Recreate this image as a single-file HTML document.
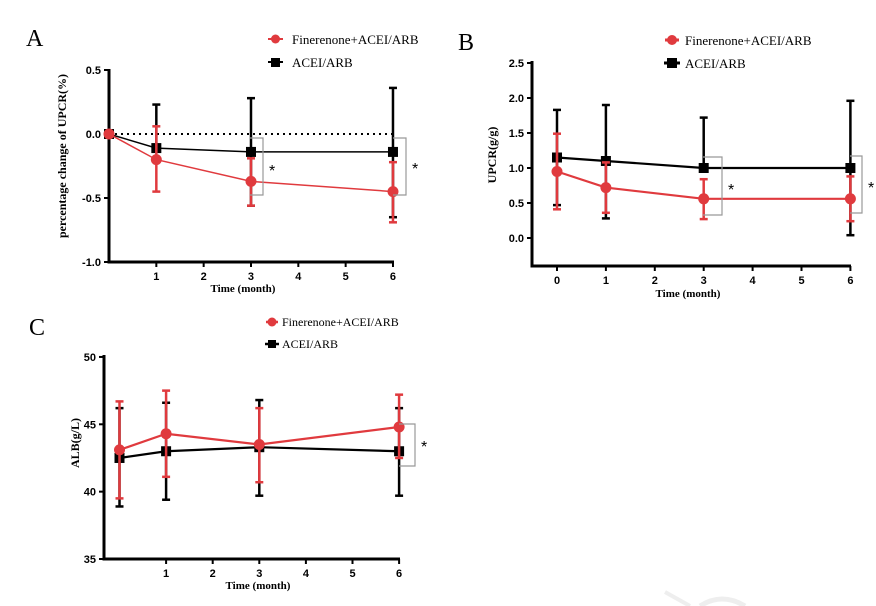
<!DOCTYPE html>
<html><head><meta charset="utf-8"><style>
body{margin:0;background:#fff;width:876px;height:606px;overflow:hidden}
svg{display:block}
.tk{font:bold 11px "Liberation Sans",Arial,sans-serif}
.lg{font:13px "Liberation Serif",serif}
.st{font:16px "Liberation Sans",Arial,sans-serif}
.ax{font:bold 11px "Liberation Serif",serif}
.let{font:24px "Liberation Serif",serif}
</style></head><body>
<svg id="s" width="876" height="606" xmlns="http://www.w3.org/2000/svg"></svg>
<script>
const s=document.getElementById('s');let h='';
const R='#e03a3e',K='#000';
function txt(x,y,t,c,a,ex){h+=`<text x="${x}" y="${y}" class="${c}" text-anchor="${a||'start'}" ${ex||''}>${t}</text>`;}
function ln(x1,y1,x2,y2,c,w,ex){h+=`<line x1="${x1}" y1="${y1}" x2="${x2}" y2="${y2}" stroke="${c}" stroke-width="${w}" ${ex||''}/>`;}
function panel(o){
 const X=v=>o.x0+v*o.xs, Y=v=>o.y0+(v-o.v0)*o.ys;
 ln(o.ax,o.yTop-1,o.ax,o.yBot+1.5,K,3);ln(o.ax-1.5,o.yBot,o.xEnd,o.yBot,K,3);
 o.yt.forEach(v=>{ln(o.ax-5,Y(v),o.ax,Y(v),K,2);txt(o.ax-8,Y(v)+4,v.toFixed(o.dec),'tk','end');});
 o.xt.forEach(v=>{ln(X(v),o.yBot,X(v),o.yBot+5,K,2);txt(X(v),o.yBot+18,v,'tk','middle');});
 if(o.dot)ln(o.ax,Y(0),o.xEnd,Y(0),K,2,'stroke-dasharray="2,4"');
 [[o.k,K,'sq'],[o.r,R,'c']].forEach(([d,c,m])=>{
  d.forEach(p=>{if(p[2]!=null){ln(X(p[0]),Y(p[2]),X(p[0]),Y(p[1]),c,2.5);ln(X(p[0])-4,Y(p[2]),X(p[0])+4,Y(p[2]),c,2.5);}
   if(p[3]!=null){ln(X(p[0]),Y(p[3]),X(p[0]),Y(p[1]),c,2.5);ln(X(p[0])-4,Y(p[3]),X(p[0])+4,Y(p[3]),c,2.5);}});
  h+=`<polyline fill="none" stroke="${c}" stroke-width="${o.lw}" points="${d.map(p=>X(p[0])+','+Y(p[1])).join(' ')}"/>`;
  d.forEach(p=>{if(m=='sq')h+=`<rect x="${X(p[0])-5}" y="${Y(p[1])-5}" width="10" height="10" fill="${c}"/>`;else h+=`<circle cx="${X(p[0])}" cy="${Y(p[1])}" r="5.5" fill="${c}"/>`;});
 });
 o.br.forEach(b=>{h+=`<polyline fill="none" stroke="#999" stroke-width="1.2" points="${b[0]},${b[1]} ${b[0]+b[4]},${b[1]} ${b[0]+b[4]},${b[2]} ${b[0]},${b[2]}"/>`;txt(b[0]+b[4]+6,b[3]+4,'*','st');});
}
panel({x0:109,xs:47.33,y0:134,v0:0,ys:-128,ax:109,yTop:70,yBot:262,xEnd:394,yt:[0.5,0,-0.5,-1],dec:1,xt:[1,2,3,4,5,6],dot:1,lw:1.5,
 k:[[0,0],[1,-0.11,null,0.23],[3,-0.14,-0.56,0.28],[6,-0.14,-0.65,0.36]],
 r:[[0,0],[1,-0.2,-0.45,0.06],[3,-0.37,-0.56,-0.19],[6,-0.45,-0.69,-0.22]],
 br:[[250,138,195,172,13],[393,138,195,170,13]]});
panel({x0:557,xs:48.9,y0:238,v0:0,ys:-70,ax:532,yTop:62,yBot:266,xEnd:851,yt:[2.5,2,1.5,1,0.5,0],dec:1,xt:[0,1,2,3,4,5,6],lw:2.2,
 k:[[0,1.15,0.47,1.83],[1,1.1,0.28,1.9],[3,1.0,null,1.72],[6,1.0,0.04,1.96]],
 r:[[0,0.95,0.41,1.49],[1,0.72,0.36,1.08],[3,0.56,0.27,0.84],[6,0.56,0.24,0.88]],
 br:[[703,157,215,191,19],[850,156,213,189,12]]});
panel({x0:119.5,xs:46.6,y0:559,v0:35,ys:-13.47,ax:104,yTop:356,yBot:559,xEnd:400,yt:[50,45,40,35],dec:0,xt:[1,2,3,4,5,6],lw:2.2,
 k:[[0,42.5,38.9,46.2],[1,43.0,39.4,46.6],[3,43.3,39.7,46.8],[6,43.0,39.7,46.2]],
 r:[[0,43.1,39.5,46.7],[1,44.3,41.1,47.5],[3,43.5,40.7,46.2],[6,44.8,42.5,47.2]],
 br:[[399,424,466,448,16]]});
txt(26,46,'A','let');txt(458,50,'B','let');txt(29,335,'C','let');
ln(268,39,283,39,R,2);h+=`<circle cx="275.5" cy="39" r="4.5" fill="${R}"/>`;txt(292,44,'Finerenone+ACEI/ARB','lg');
ln(268,62,283,62,K,2);h+=`<rect x="271" y="58" width="9" height="9" fill="#000"/>`;txt(292,67,'ACEI/ARB','lg');
h+=`<circle cx="672" cy="40" r="5" fill="${R}"/>`;ln(665,40,679,40,R,3);txt(685,45,'Finerenone+ACEI/ARB','lg');
h+=`<rect x="667" y="58" width="10" height="10" fill="#000"/>`;ln(664,63,680,63,K,3);txt(685,68,'ACEI/ARB','lg');
h+=`<circle cx="272" cy="322" r="4.5" fill="${R}"/>`;ln(266,322,278,322,R,2.5);txt(282,326,'Finerenone+ACEI/ARB','lg','start','style="font-size:12px"');
h+=`<rect x="268" y="340" width="8" height="8" fill="#000"/>`;ln(265,344,279,344,K,2.5);txt(282,348,'ACEI/ARB','lg','start','style="font-size:12px"');
txt(0,0,'percentage change of UPCR(%)','ax','middle','transform="translate(66,156) rotate(-90)" style="font-size:12px"');
txt(243,292,'Time (month)','ax','middle');
txt(0,0,'UPCR(g/g)','ax','middle','transform="translate(496,155) rotate(-90)" style="font-size:12px"');
txt(688,297,'Time (month)','ax','middle');
txt(0,0,'ALB(g/L)','ax','middle','transform="translate(79,443) rotate(-90)" style="font-size:12px"');
txt(258,589,'Time (month)','ax','middle');
h+=`<path d="M700 606 Q722 592 745 606" fill="none" stroke="#eee" stroke-width="5"/><path d="M665 592 L690 606" stroke="#eee" stroke-width="4"/>`;
s.innerHTML=h;
</script>
</body></html>
